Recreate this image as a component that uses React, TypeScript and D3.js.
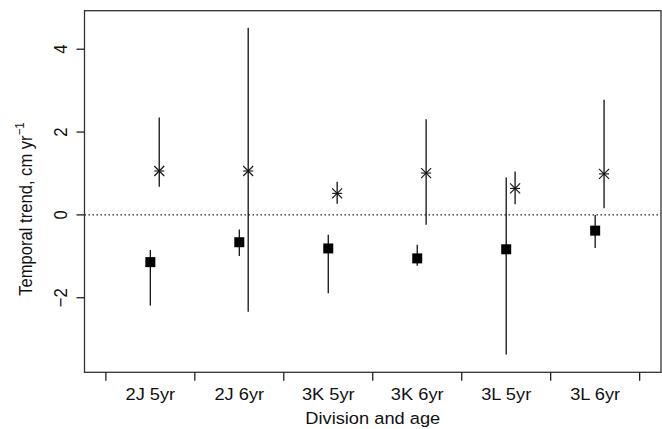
import React from "react";
import * as d3 from "d3";

const categories = ["2J 5yr", "2J 6yr", "3K 5yr", "3K 6yr", "3L 5yr", "3L 6yr"];
// square series (estimate, lower, upper)
const squareEst = [-1.14, -0.66, -0.81, -1.05, -0.83, -0.38];
const squareLow = [-2.19, -0.99, -1.89, -1.23, -3.37, -0.8];
const squareHigh = [-0.85, -0.35, -0.48, -0.72, 0.9, 0.0];
// asterisk series
const starEst = [1.06, 1.06, 0.52, 1.01, 0.64, 0.99];
const starLow = [0.68, -2.34, 0.27, -0.24, 0.26, 0.16];
const starHigh = [2.35, 4.52, 0.8, 2.31, 1.05, 2.78];
const yTicks = [-2, 0, 2, 4];

const W = 662;
const H = 429;
const L = 84.5, R = 661, T = 10.7, B = 372.3;
const FONT = "'Liberation Sans', Arial, Helvetica, sans-serif";
const FS = 16.6;
const SX = 1.1;

export default function App() {
  const x = d3.scaleLinear().domain([0.26, 6.74]).range([L, R]);
  const y = d3.scaleLinear().domain([-3.8, 4.93]).range([B, T]);
  const starOff = 0.1;
  const ink = "#111";
  const sq = 10;
  const s = 5;
  const xBoundaries = d3.range(0.5, 7, 1);

  return (
    <svg width={W} height={H} style={{ position: "absolute", left: 0, top: 0, background: "#fff" }} fontFamily={FONT}>
      {/* zero line */}
      <line x1={L} x2={R} y1={y(0)} y2={y(0)} stroke="#222" strokeWidth={1.3} strokeDasharray="1.5 2.5" />
      {/* frame */}
      <rect x={L} y={T} width={R - L} height={B - T} fill="none" stroke="#333" strokeWidth={1.3} />
      {/* y ticks */}
      {yTicks.map((t) => (
        <g key={t}>
          <line x1={L - 8} x2={L} y1={y(t)} y2={y(t)} stroke="#222" strokeWidth={1.3} />
          <text
            transform={`translate(${67},${y(t)}) scale(${SX},1) rotate(-90)`}
            textAnchor="middle"
            fontSize={FS}
            fill="#111"
          >
            {t < 0 ? "\u2212" + Math.abs(t) : String(t)}
          </text>
        </g>
      ))}
      {/* x ticks */}
      {xBoundaries.map((b) => (
        <line key={b} x1={x(b)} x2={x(b)} y1={B} y2={B + 8.5} stroke="#222" strokeWidth={1.3} />
      ))}
      {categories.map((c, i) => (
        <text
          key={c}
          transform={`translate(${x(i + 1)},399.5) scale(${SX},1)`}
          textAnchor="middle"
          fontSize={FS}
          fill="#111"
        >
          {c}
        </text>
      ))}
      {/* axis titles */}
      <text
        transform={`translate(${(L + R) / 2},424.3) scale(${SX},1)`}
        textAnchor="middle"
        fontSize={FS}
        fill="#111"
      >
        Division and age
      </text>
      <text
        transform={`translate(31.5,209) scale(${SX},1) rotate(-90)`}
        textAnchor="middle"
        fontSize={FS}
        fill="#111"
      >
        Temporal trend, cm yr
        <tspan fontSize={11.5} dy={-7}>{"\u22121"}</tspan>
      </text>
      {/* squares series */}
      {categories.map((c, i) => {
        const cx = x(i + 1);
        return (
          <g key={"s" + c}>
            <line x1={cx} x2={cx} y1={y(squareLow[i])} y2={y(squareHigh[i])} stroke={ink} strokeWidth={1.3} />
            <rect x={cx - sq / 2} y={y(squareEst[i]) - sq / 2} width={sq} height={sq} fill="#000" />
          </g>
        );
      })}
      {/* star series */}
      {categories.map((c, i) => {
        const cx = x(i + 1 + starOff);
        const cy = y(starEst[i]);
        return (
          <g key={"a" + c}>
            <line x1={cx} x2={cx} y1={y(starLow[i])} y2={y(starHigh[i])} stroke={ink} strokeWidth={1.3} />
            <line x1={cx - s} x2={cx + s} y1={cy} y2={cy} stroke={ink} strokeWidth={1.1} />
            <line x1={cx - s} x2={cx + s} y1={cy - s} y2={cy + s} stroke={ink} strokeWidth={1.1} />
            <line x1={cx - s} x2={cx + s} y1={cy + s} y2={cy - s} stroke={ink} strokeWidth={1.1} />
          </g>
        );
      })}
    </svg>
  );
}
